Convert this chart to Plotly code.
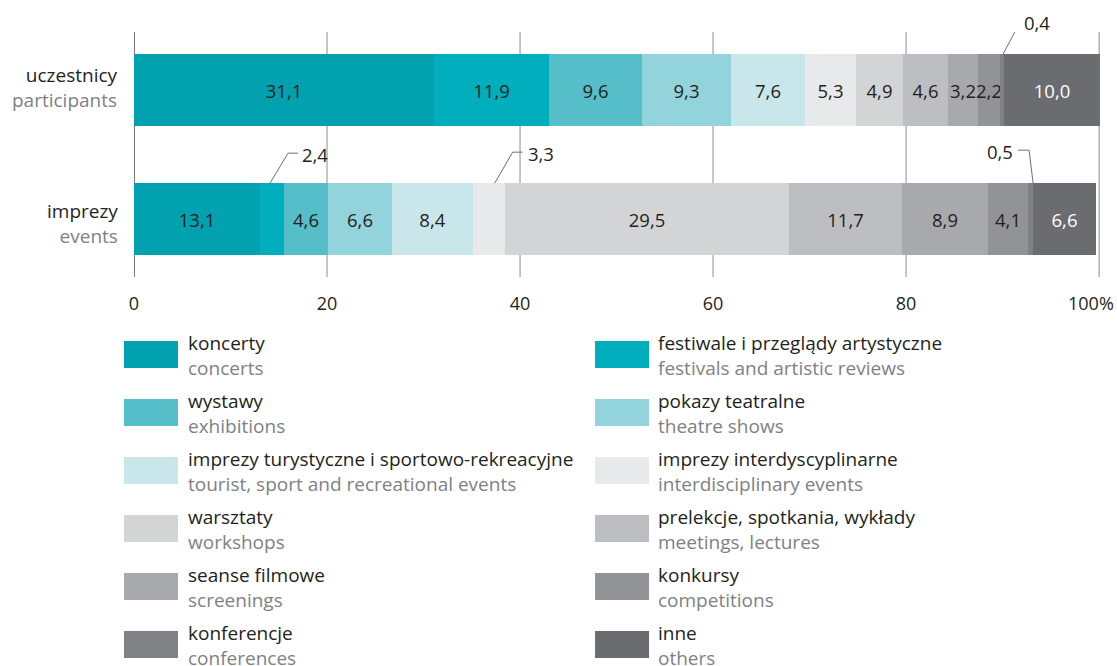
import plotly.graph_objects as go

# Series (order of stacking, left to right)
names_pl = [
    "koncerty", "festiwale i przeglądy artystyczne", "wystawy", "pokazy teatralne",
    "imprezy turystyczne i sportowo-rekreacyjne", "imprezy interdyscyplinarne",
    "warsztaty", "prelekcje, spotkania, wykłady", "seanse filmowe", "konkursy",
    "konferencje", "inne",
]
names_en = [
    "concerts", "festivals and artistic reviews", "exhibitions", "theatre shows",
    "tourist, sport and recreational events", "interdisciplinary events",
    "workshops", "meetings, lectures", "screenings", "competitions",
    "conferences", "others",
]
colors = [
    "#02a1b0", "#00aebd", "#56bec8", "#93d3db", "#c9e7ea", "#e8e9ea",
    "#d3d4d6", "#bdbec1", "#a8a9ac", "#929396", "#808184", "#6b6c70",
]

# Shares in % for the two rows
participants = [31.1, 11.9, 9.6, 9.3, 7.6, 5.3, 4.9, 4.6, 3.2, 2.2, 0.4, 10.0]
events = [13.1, 2.4, 4.6, 6.6, 8.4, 3.3, 29.5, 11.7, 8.9, 4.1, 0.5, 6.6]

row_pl = ["uczestnicy", "imprezy"]
row_en = ["participants", "events"]

x_ticks = [0, 20, 40, 60, 80, 100]
x_ticktext = ["0", "20", "40", "60", "80", ""]
last_tick_text = "100%"

# Segments whose value is written outside the bar with a leader line
callout_participants = {10}
callout_events = {1, 5, 10}

DARK = "#231f20"
GREY_TXT = "#808184"
LEADER = "#6d6e71"
GRID = "#8c8d90"
FONT = "Open Sans"
TXT = 19

BAR_W = 0.56
Y_PART, Y_EVT = 1, 0
X_MAX = 100.3

# plot-area pixel box (0 at x=134, 100 at x=1099)
L, T, B = 134, 32, 277
R = L + 965 * X_MAX / 100
W_PX, H_PX = 1117, 666


def fx(px):
    return (px - L) / (R - L)


def fy(py):
    return (B - py) / (B - T)


def fmt(v):
    return f"{v:.1f}".replace(".", ",")


def two_lang(pl, en):
    return f"{pl}<br><span style='color:{GREY_TXT}'>{en}</span>"


fig = go.Figure()

# vertical grid lines, drawn under the bars
for t in x_ticks:
    fig.add_shape(type="line", xref="x", yref="paper", x0=t, x1=t, y0=0, y1=1,
                  line=dict(color="#77787b" if t == 0 else GRID, width=2 if t == 0 else 1),
                  layer="below")

for i in range(len(names_pl)):
    vals = [participants[i], events[i]]
    txt = [
        "" if i in callout_participants else fmt(participants[i]),
        "" if i in callout_events else fmt(events[i]),
    ]
    fig.add_trace(go.Bar(
        x=vals, y=[Y_PART, Y_EVT], orientation="h", width=BAR_W,
        name=names_pl[i], marker=dict(color=colors[i], line=dict(width=0)),
        text=txt, textposition="inside", insidetextanchor="middle",
        textangle=0, constraintext="none",
        textfont=dict(family=FONT, size=18.5, color="#ffffff" if i == 11 else DARK),
        showlegend=False, hoverinfo="skip",
    ))


def seg_center(vals, i):
    return sum(vals[:i]) + vals[i] / 2


# leader lines + outside labels
def callout(vals, i, ybar, path, xshift, yshift, anchor):
    xc = seg_center(vals, i)
    ytop = ybar + BAR_W / 2
    fig.add_shape(type="path", xref="x", yref="y", xsizemode="pixel", ysizemode="pixel",
                  xanchor=xc, yanchor=ytop, path=path,
                  line=dict(color=LEADER, width=1), layer="above")
    fig.add_annotation(x=xc, y=ytop, xref="x", yref="y", text=fmt(vals[i]),
                       showarrow=False, xanchor=anchor, yanchor="middle",
                       xshift=xshift, yshift=yshift,
                       font=dict(family=FONT, size=18.5, color=DARK))


callout(participants, 10, Y_PART, "M1.5,0 L20,35", 20, 32, "left")
callout(events, 1, Y_EVT, "M-2,0 L16,30 L26,30", 28, 29, "left")
callout(events, 5, Y_EVT, "M6,0 L24,31 L34,31", 37, 30, "left")
callout(events, 10, Y_EVT, "M3,0 L-1,33 L-12,33", -15, 32, "right")

# row labels (two-language)
for yv, pl, en, dy in [(Y_PART, row_pl[0], row_en[0], 3), (Y_EVT, row_pl[1], row_en[1], -4)]:
    fig.add_annotation(x=0, y=yv, xref="paper", yref="y", text=two_lang(pl, en),
                       showarrow=False, align="right", xanchor="right", yanchor="middle",
                       xshift=-14, yshift=dy,
                       font=dict(family=FONT, size=TXT, color=DARK))

# end label of the percentage axis
fig.add_annotation(x=x_ticks[-1], y=0, xref="x", yref="paper", text=last_tick_text,
                   showarrow=False, xanchor="center", yanchor="middle",
                   xshift=-8, yshift=-26, font=dict(family=FONT, size=18, color=DARK))

# legend, two columns
col_sw_x = [124, 595]
col_txt_x = [186, 656]
row_top = [341, 399, 457, 515, 573, 631]
for i in range(len(names_pl)):
    c, r = i % 2, i // 2
    top = row_top[r]
    fig.add_shape(type="rect", xref="paper", yref="paper",
                  x0=fx(col_sw_x[c]), x1=fx(col_sw_x[c] + 54),
                  y0=fy(top + 27), y1=fy(top),
                  fillcolor=colors[i], line=dict(width=0), layer="above")
    fig.add_annotation(x=fx(col_txt_x[c]), y=fy(top + 14.5), xref="paper", yref="paper",
                       text=two_lang(names_pl[i], names_en[i]), showarrow=False,
                       align="left", xanchor="left", yanchor="middle",
                       font=dict(family=FONT, size=TXT, color=DARK))

fig.update_layout(
    barmode="stack",
    width=W_PX, height=H_PX,
    margin=dict(l=L, r=W_PX - R, t=T, b=H_PX - B, pad=0),
    paper_bgcolor="white", plot_bgcolor="white",
    separators=", ",
    font=dict(family=FONT, size=18, color=DARK),
    bargap=0,
    xaxis=dict(range=[0, X_MAX], tickvals=x_ticks, ticktext=x_ticktext,
               showgrid=False, zeroline=False, showline=False,
               ticks="", ticklabelstandoff=14,
               tickfont=dict(family=FONT, size=18, color=DARK), fixedrange=True),
    yaxis=dict(range=[-0.447, 1.451], showticklabels=False, showgrid=False,
               zeroline=False, showline=False, fixedrange=True),
)

fig.write_html("out.html")
